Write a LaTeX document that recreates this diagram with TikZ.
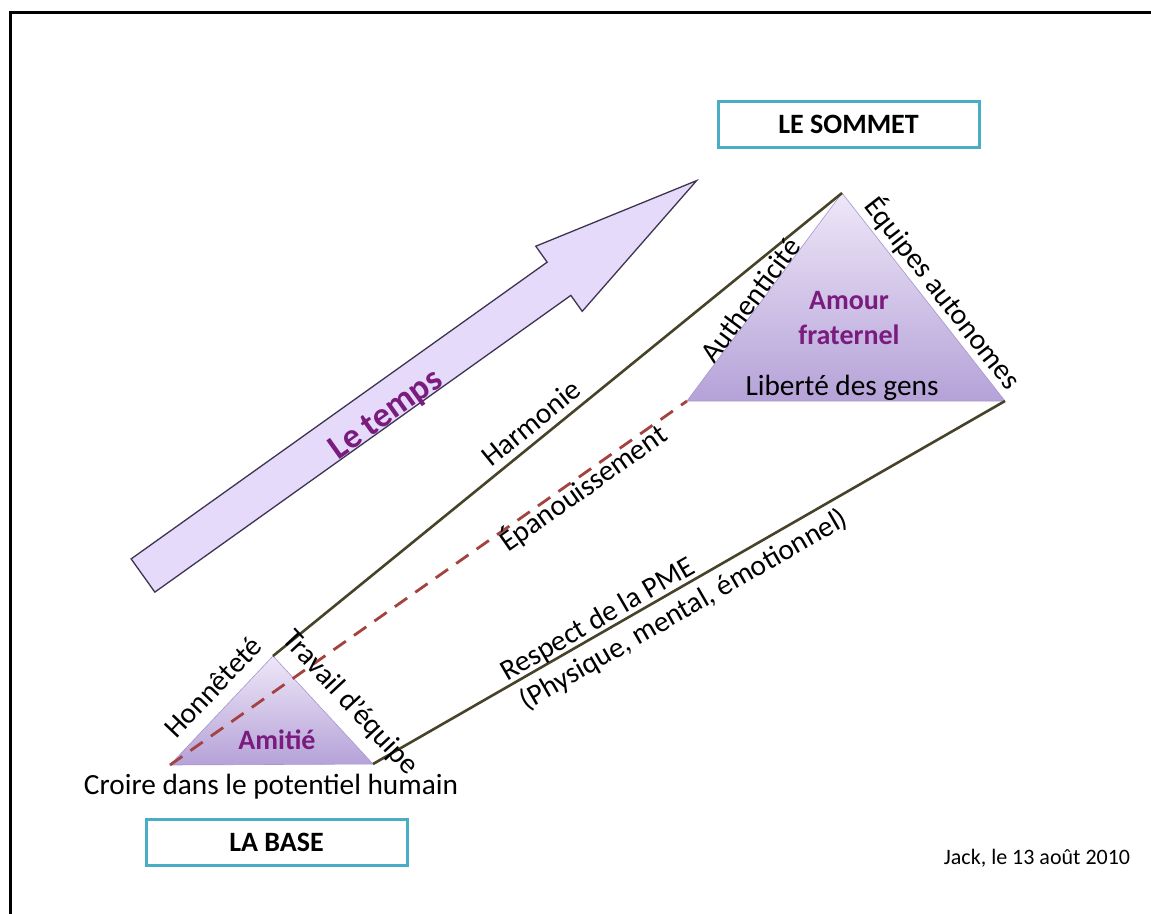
\documentclass[tikz,border=0pt]{standalone}
\usepackage{fontspec}
\setmainfont{Carlito}
\definecolor{lineol}{HTML}{474329}
\definecolor{dashred}{HTML}{A3423F}
\definecolor{purpletxt}{HTML}{7A1B7E}
\definecolor{teal}{HTML}{4BACC6}
\definecolor{arrowfill}{HTML}{E5DAFA}
\definecolor{arrowedge}{HTML}{3E3450}
\definecolor{tritop}{HTML}{EEE7F8}
\definecolor{tribot}{HTML}{B5A2D8}
\definecolor{triedge}{HTML}{A796CC}
\tikzset{
  solidline/.style={draw=lineol, line width=2.6pt},
  dashline/.style={draw=dashred, line width=2.8pt, dash pattern=on 15pt off 10pt},
  tri/.style={top color=tritop, bottom color=tribot, draw=triedge, line width=0.6pt},
  lbl/.style={font=\fontsize{29.3}{32}\selectfont, inner sep=0pt, text=black},
  heavy/.style={font=\fontsize{28}{35}\selectfont\bfseries, inner sep=0pt, text=purpletxt, align=center},
  boxed/.style={draw=teal, line width=3pt, fill=white, font=\fontsize{28}{32}\selectfont\bfseries, minimum width=261pt, minimum height=46pt, inner sep=0pt}
}
\begin{document}
\begin{tikzpicture}[x=1pt,y=-1pt]
\useasboundingbox (0,0) rectangle (1151,913);
\clip (0,0) rectangle (1151,913);
\fill[white] (0,0) rectangle (1151,913);
\draw[line width=3pt] (10.5,12) rectangle (1190,940);

% big time arrow
\begin{scope}[shift={(143,575.5)}, rotate=35.5]
  \draw[fill=arrowfill, draw=arrowedge, line width=1.3pt, line join=miter]
    (0,-20.4) -- (511,-20.4) -- (511,-40) -- (680,0) -- (511,40) -- (511,20.4) -- (0,20.4) -- cycle;
  \node[font=\fontsize{35}{38}\selectfont\bfseries, text=purpletxt, inner sep=0pt, rotate=35.5] (temps) at (291,11) {Le temps};
\end{scope}

% vertices
\coordinate (sL) at (170,765);
\coordinate (sT) at (273,656);
\coordinate (sR) at (373,764);
\coordinate (bL) at (687,401);
\coordinate (bT) at (842,193);
\coordinate (bR) at (1005,401);

\path[tri] (sL) -- (sT) -- (sR) -- cycle;
\path[tri] (bL) -- (bT) -- (bR) -- cycle;

\draw[solidline] (sT) -- (bT);
\draw[dashline] (sL) -- (bL);
\draw[solidline] (sR) -- (bR);

% labels
\node[lbl, rotate=39.1] (harm) at (531,423) {Harmonie};
\node[lbl, rotate=35.2] (epan) at (583,488) {Épanouissement};
\node[lbl, rotate=30] (resp) at (598,620) {Respect de la PME};
\node[lbl, rotate=30] (phys) at (684,610) {(Physique, mental, émotionnel)};
\node[lbl, rotate=46.4] (honn) at (213,687) {Honnêteté};
\node[lbl, rotate=-47] (trav) at (350,703) {Travail d’équipe};
\node[heavy] (amit) at (277,740) {Amitié};
\node[lbl] (croi) at (271,787) {Croire dans le potentiel humain};
\node[lbl, rotate=53.3] (auth) at (750,300) {Authenticité};
\node[lbl, rotate=-52] (equi) at (943,293) {Équipes autonomes};
\node[heavy] (amou) at (849,318) {Amour\\fraternel};
\node[lbl] (libe) at (842,388) {Liberté des gens};

% boxes
\node[boxed] (sommet) at (848.5,124) {LE SOMMET};
\node[boxed] (base) at (276.5,842) {LA BASE};

\node[font=\fontsize{22}{26}\selectfont, inner sep=0pt] (jack) at (1037,858) {Jack, le 13 août 2010};
\end{tikzpicture}
\end{document}
